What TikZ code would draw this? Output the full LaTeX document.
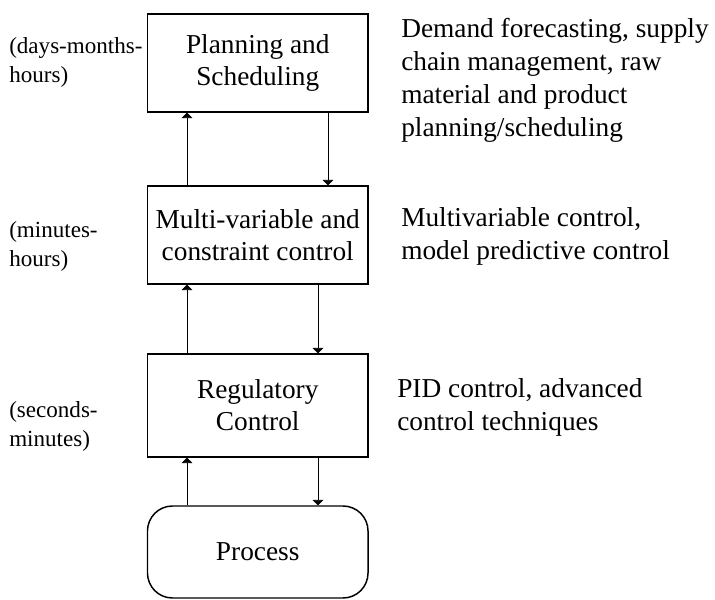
\documentclass[tikz,border=0pt]{standalone}
\usepackage{fontspec}
\setmainfont{Liberation Serif}
\usetikzlibrary{arrows.meta}
\begin{document}
\begin{tikzpicture}[x=0.75pt,y=-0.75pt,
  level/.style={draw,line width=1.1pt,minimum width=165.4pt,inner sep=0pt,
    align=center,font=\fontsize{20.5}{24}\selectfont},
  note/.style={anchor=base west,inner sep=0pt,align=left,
    font=\fontsize{20.5}{24.75}\selectfont},
  span/.style={anchor=west,inner sep=0pt,align=left,
    font=\fontsize{17.3}{22}\selectfont},
  link/.style={line width=0.6pt,-{Triangle[length=4pt,width=8pt]}}]
\useasboundingbox (0,0) rectangle (715,600);

% hierarchy levels
\node[level,minimum height=73.5pt] (plan) at (257.75,63) {Planning and\\Scheduling};
\node[level,minimum height=73.5pt] (multi) at (257.75,235) {Multi-variable and\\constraint control};
\node[level,minimum height=77.25pt] (reg) at (257.75,405.5) {Regulatory\\Control};
\node[level,minimum height=69pt,rounded corners=18.75pt] (proc) at (257.75,552) {Process};

% columns of the connectors
\coordinate (L) at (187,0);
\coordinate (R1) at (328,0);
\coordinate (R2) at (318,0);

\draw[link] (multi.north -| L) -- (plan.south -| L);
\draw[link] (plan.south -| R1) -- (multi.north -| R1);
\draw[link] (reg.north -| L) -- (multi.south -| L);
\draw[link] (multi.south -| R2) -- (reg.north -| R2);
\draw[link] (proc.north -| L) -- (reg.south -| L);
\draw[link] (reg.south -| R2) -- (proc.north -| R2);

% time scales
\node[span] (t1) at (9,62.5) {(days-months-\\hours)};
\node[span] (t2) at (9,246.5) {(minutes-\\hours)};
\node[span] (t3) at (9,426.5) {(seconds-\\minutes)};

% descriptions (anchored at the baseline of their last line)
\node[note] (d1) at (401,136) {Demand forecasting, supply\\chain management, raw\\material and product\\planning/scheduling};
\node[note] (d2) at (401,259) {Multivariable control,\\model predictive control};
\node[note] (d3) at (397,430) {PID control, advanced\\control techniques};
\end{tikzpicture}
\end{document}
